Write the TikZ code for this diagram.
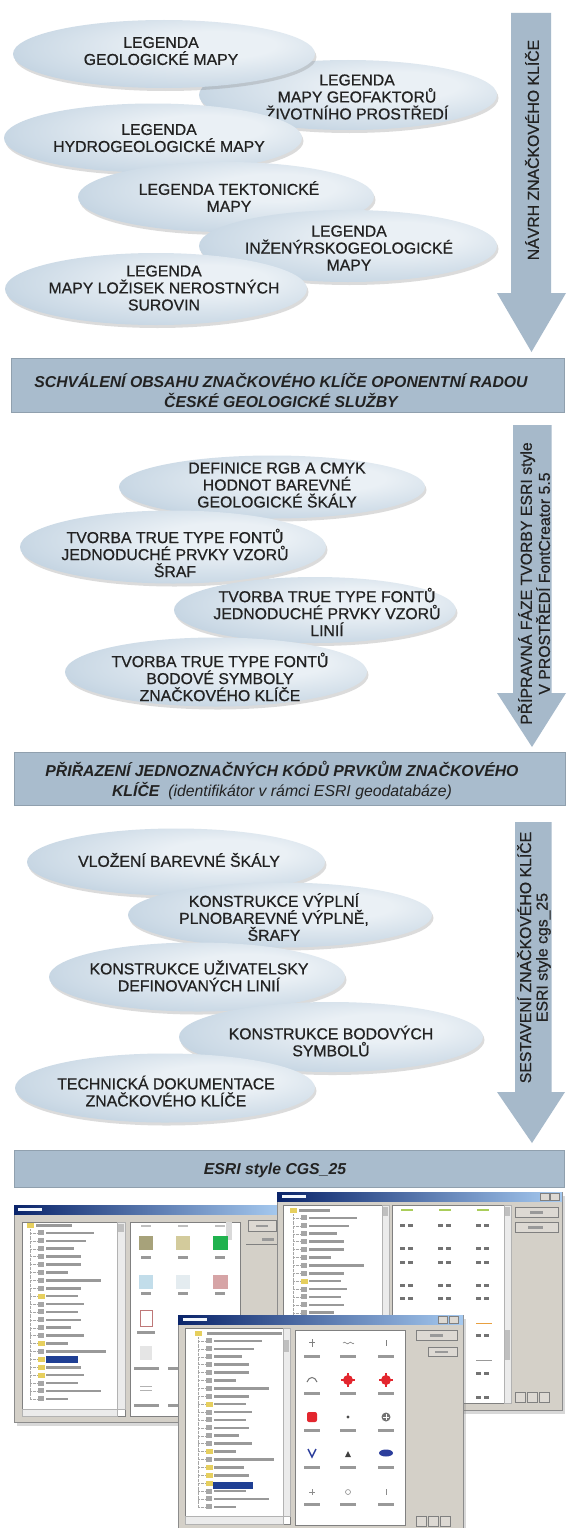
\documentclass[tikz,border=0pt]{standalone}
\usepackage{fontspec}
\setmainfont{Liberation Sans}
\newfontfamily\ellfont{Liberation Sans}[FakeBold=0.7]
\usetikzlibrary{shapes.geometric,shadows}
\definecolor{ellA}{HTML}{EAF0F5}
\definecolor{ellB}{HTML}{CCDAE6}
\definecolor{ellC}{HTML}{ABC1D4}
\definecolor{ellD}{HTML}{8EA7BE}
\definecolor{bandcol}{HTML}{A9BCCD}
\definecolor{arrowcol}{HTML}{A6B9CA}
\definecolor{txtcol}{HTML}{222222}
\definecolor{wingray}{HTML}{D4D0C8}
\definecolor{titleA}{HTML}{0A246A}
\definecolor{titleB}{HTML}{A6CAF0}
\definecolor{foldercol}{HTML}{E6CF5E}
\definecolor{selblue}{HTML}{1F3F94}
\definecolor{symred}{HTML}{E3262E}
\definecolor{symblue}{HTML}{2C3E9C}
\definecolor{swOlive}{HTML}{A7A27A}
\definecolor{swTan}{HTML}{D3CB9C}
\definecolor{swGreen}{HTML}{20B24E}
\definecolor{swBlue}{HTML}{C2DDEA}
\definecolor{swPale}{HTML}{E4ECF0}
\definecolor{swPink}{HTML}{D6A4A6}
\definecolor{swRedline}{HTML}{BE7878}
\definecolor{lnGreen}{HTML}{AACD5A}
\definecolor{lnOrange}{HTML}{E8A040}
\pgfdeclareradialshading{ellshade}{\pgfpoint{10bp}{8bp}}{color(0bp)=(ellA); color(10bp)=(ellA); color(28bp)=(ellB); color(44bp)=(ellC); color(64bp)=(ellD)}
\tikzset{
  ell/.style={ellipse, shade, shading=ellshade, draw=none, inner sep=0pt,
    drop shadow={shadow xshift=1.5pt, shadow yshift=-3pt, opacity=0.28}},
  elltext/.style={align=center, font=\ellfont\fontsize{15.8}{17}\selectfont, text=txtcol, inner sep=0pt},
  arrtext/.style={rotate=90, align=center, font=\ellfont\fontsize{15.8}{16.5}\selectfont, text=txtcol, inner sep=0pt},
  band/.style={rectangle, fill=bandcol, draw=bandcol!85!black, line width=0.5pt, inner sep=0pt},
  bandtext/.style={align=center, font=\bfseries\itshape\fontsize{15.8}{20}\selectfont, text=txtcol, inner sep=0pt},
  bigarrow/.style={fill=arrowcol},
  win/.style={fill=wingray, draw=black!45, line width=0.5pt,
    drop shadow={shadow xshift=3pt, shadow yshift=-4pt, opacity=0.3}},
  titlebar/.style={left color=titleA, right color=titleB},
  panel/.style={fill=white, draw=black!50, line width=0.4pt},
  scrollbar/.style={fill=black!8, draw=black!30, line width=0.3pt},
  button/.style={fill=wingray!80!white, draw=black!50, line width=0.4pt},
  rowtext/.style={fill=black!40},
  faint/.style={fill=black!25},
  checkicon/.style={fill=black!35},
  foldericon/.style={fill=foldercol},
  treeline/.style={draw=black!35, densely dotted, line width=0.3pt},
  tree/.pic={
    \draw[treeline] (3,4) -- (3,{7.9*22});
    \foreach \k/\l in {1/48,2/40,3/28,4/35,5/35,6/22,7/55,8/35,9/32,10/38,11/32,12/35,13/25,14/38,15/22,16/60,17/30,18/35,19/38,20/32,21/55,22/22}{
      \draw[treeline] (3,{7.9*\k}) -- (10,{7.9*\k});
      \fill[checkicon] (11,{7.9*\k-2.5}) rectangle (17,{7.9*\k+2.5});
      \fill[rowtext] (19,{7.9*\k-1.3}) rectangle ({19+\l},{7.9*\k+1.3});
    }
    \foreach \k in {9,15,17,18,19}{
      \fill[foldericon] (10.5,{7.9*\k-2.5}) rectangle (18,{7.9*\k+2.5});
    }
    \fill[foldericon] (0,-2.5) rectangle (7,2.5);
  }
}
\begin{document}
\begin{tikzpicture}[x=1pt,y=-1pt]
\useasboundingbox[fill=white] (0,0) rectangle (567,1528);

% ---------------- section 1 ----------------
\node[ell, minimum width=298pt, minimum height=70pt] (e2) at (348,95) {};
\node[elltext] (e2t) at (357,97) {LEGENDA\\MAPY GEOFAKTORŮ\\ŽIVOTNÍHO PROSTŘEDÍ};
\node[ell, minimum width=302pt, minimum height=68pt] (e1) at (164,54) {};
\node[elltext] (e1t) at (161,51) {LEGENDA\\GEOLOGICKÉ MAPY};
\node[ell, minimum width=298pt, minimum height=69pt] (e3) at (153,138) {};
\node[elltext] (e3t) at (159,138) {LEGENDA\\HYDROGEOLOGICKÉ MAPY};
\node[ell, minimum width=296pt, minimum height=70pt] (e4) at (226,197) {};
\node[elltext] (e4t) at (229,196.5) {LEGENDA TEKTONICKÉ\\MAPY};
\node[ell, minimum width=298pt, minimum height=72pt] (e5) at (348,246) {};
\node[elltext] (e5t) at (349,248) {LEGENDA\\INŽENÝRSKOGEOLOGICKÉ\\MAPY};
\node[ell, minimum width=302pt, minimum height=72pt] (e6) at (156,289) {};
\node[elltext] (e6t) at (164,288) {LEGENDA\\MAPY LOŽISEK NEROSTNÝCH\\SUROVIN};

\fill[bigarrow] (511,13) -- (551,13) -- (551,293) -- (566,293) -- (531.5,352) -- (497,293) -- (511,293) -- cycle;
\node[arrtext] (a1t) at (532,150) {NÁVRH ZNAČKOVÉHO KLÍČE};

\node[band, minimum width=553pt, minimum height=54pt] (b1) at (287.5,385) {};
\node[bandtext] (b1t) at (281,390) {SCHVÁLENÍ OBSAHU ZNAČKOVÉHO KLÍČE OPONENTNÍ RADOU\\ČESKÉ GEOLOGICKÉ SLUŽBY};

% ---------------- section 2 ----------------
\node[ell, minimum width=306pt, minimum height=63pt] (f1) at (272,487) {};
\node[elltext] (f1t) at (277,485) {DEFINICE RGB A CMYK\\HODNOT BAREVNÉ\\GEOLOGICKÉ ŠKÁLY};
\node[ell, minimum width=306pt, minimum height=73pt] (f2) at (173,547) {};
\node[elltext] (f2t) at (175,553) {TVORBA TRUE TYPE FONTŮ\\JEDNODUCHÉ PRVKY VZORŮ\\ŠRAF};
\node[ell, minimum width=282pt, minimum height=66pt] (f3) at (315,610) {};
\node[elltext] (f3t) at (327,612) {TVORBA TRUE TYPE FONTŮ\\JEDNODUCHÉ PRVKY VZORŮ\\LINIÍ};
\node[ell, minimum width=302pt, minimum height=69pt] (f4) at (216,672) {};
\node[elltext] (f4t) at (220,677) {TVORBA TRUE TYPE FONTŮ\\BODOVÉ SYMBOLY\\ZNAČKOVÉHO KLÍČE};

\fill[bigarrow] (513,425) -- (551.5,425) -- (551.5,693) -- (566,693) -- (532,747) -- (497,693) -- (513,693) -- cycle;
\node[arrtext] (a2t) at (534,583.5) {PŘÍPRAVNÁ FÁZE TVORBY ESRI style\\V PROSTŘEDÍ FontCreator 5.5};

\node[band, minimum width=551pt, minimum height=53pt] (b2) at (290,778.5) {};
\node[bandtext] (b2t) at (282,780) {PŘIŘAZENÍ JEDNOZNAČNÝCH KÓDŮ PRVKŮM ZNAČKOVÉHO\\KLÍČE\ \ {\mdseries (identifikátor v rámci ESRI geodatabáze)}};

% ---------------- section 3 ----------------
\node[ell, minimum width=298pt, minimum height=67pt] (g1) at (176,862) {};
\node[elltext] (g1t) at (179,860) {VLOŽENÍ BAREVNÉ ŠKÁLY};
\node[ell, minimum width=304pt, minimum height=65pt] (g2) at (280,915) {};
\node[elltext] (g2t) at (274,917) {KONSTRUKCE VÝPLNÍ\\PLNOBAREVNÉ VÝPLNĚ,\\ŠRAFY};
\node[ell, minimum width=296pt, minimum height=69pt] (g3) at (197,977) {};
\node[elltext] (g3t) at (199,976) {KONSTRUKCE UŽIVATELSKY\\DEFINOVANÝCH LINIÍ};
\node[ell, minimum width=304pt, minimum height=70pt] (g4) at (331,1037) {};
\node[elltext] (g4t) at (331,1041) {KONSTRUKCE BODOVÝCH\\SYMBOLŮ};
\node[ell, minimum width=300pt, minimum height=69pt] (g5) at (165,1088) {};
\node[elltext] (g5t) at (166,1091) {TECHNICKÁ DOKUMENTACE\\ZNAČKOVÉHO KLÍČE};

\fill[bigarrow] (515,822) -- (551.5,822) -- (551.5,1092) -- (565,1092) -- (532,1143) -- (497,1092) -- (515,1092) -- cycle;
\node[arrtext] (a3t) at (534,957.5) {SESTAVENÍ ZNAČKOVÉHO KLÍČE\\ESRI style cgs\_25};

\node[band, minimum width=549.5pt, minimum height=37pt] (b3) at (289.25,1168.5) {};
\node[bandtext] (b3t) at (275,1170) {ESRI style CGS\_25};

% ---------------- window A ----------------
\path[win] (14,1205) rectangle (280,1422);
\shade[titlebar] (14,1205) rectangle (280,1214);
\fill[white!85!titleB] (18,1208) rectangle (42,1211);
\path[panel] (22,1222) rectangle (125,1416);
\path[scrollbar] (117,1222) rectangle (125,1409);
\fill[black!25] (118,1224) rectangle (124,1232);
\path[scrollbar] (22,1409) rectangle (117,1416);
\pic at (27,1225) {tree};
\fill[rowtext] (36,1223.5) rectangle (72,1226.5);
\fill[selblue] (46,1356) rectangle (78,1362.5);
\path[panel] (130,1222) rectangle (240.5,1416);
\foreach \x in {146,183,220}{\fill[faint] (\x-5,1225) rectangle (\x+5,1227);}
\fill[black!15] (226,1222) rectangle (232,1240);
\fill[swOlive] (139,1236) rectangle (153,1250);
\fill[swTan] (176,1236) rectangle (190,1250);
\fill[swGreen] (213,1236) rectangle (228,1250);
\fill[swBlue] (139,1275) rectangle (153,1289);
\fill[swPale] (176,1275) rectangle (190,1289);
\fill[swPink] (213,1275) rectangle (228,1289);
\foreach \x in {146,183,220}{
  \fill[rowtext] (\x-5,1256) rectangle (\x+5,1259);
  \fill[rowtext] (\x-5,1292) rectangle (\x+5,1295);
}
\filldraw[fill=white, draw=swRedline, line width=0.6pt] (140,1310) rectangle (152,1326);
\fill[rowtext] (137,1331) rectangle (155,1334);
\fill[black!10] (140,1346) rectangle (152,1360);
\fill[rowtext] (134,1367) rectangle (159,1370);
\fill[rowtext] (168,1367) rectangle (178,1370);
\draw[black!30, line width=0.8pt] (140,1386) -- (152,1386);
\draw[black!30, line width=0.8pt] (140,1390) -- (152,1390);
\fill[rowtext] (134,1404) rectangle (159,1407);
\fill[rowtext] (168,1404) rectangle (178,1407);
\path[button] (248,1220) rectangle (276,1231);
\fill[rowtext] (256,1224.5) rectangle (268,1227);
\fill[rowtext] (262,1238) rectangle (274,1240.5);
\draw[black!50, line width=0.4pt] (246,1244) -- (277,1244);

% ---------------- window B ----------------
\path[win] (277,1192) rectangle (562,1410);
\shade[titlebar] (277,1192) rectangle (562,1201);
\fill[white!85!titleB] (282,1195) rectangle (306,1198);
\path[button] (540,1193) rectangle (549,1200);
\path[button] (550,1193) rectangle (559,1200);
\path[panel] (283,1205) rectangle (389,1405);
\path[scrollbar] (382,1205) rectangle (389,1405);
\fill[black!25] (383,1207) rectangle (388,1216);
\pic at (290,1210) {tree};
\fill[rowtext] (299,1208.5) rectangle (330,1211.5);
\path[panel] (392,1205) rectangle (511,1403);
\path[scrollbar] (504,1205) rectangle (511,1403);
\fill[black!25] (505,1207) rectangle (510,1216);
\fill[black!25] (505,1330) rectangle (510,1360);
\foreach \x in {407,445,483}{
  \fill[lnGreen] (\x-6,1209) rectangle (\x+6,1211);
  \foreach \y in {1225,1248,1262,1285,1298,1335,1373,1397}{
    \fill[black!55] (\x-7,\y-1.5) rectangle (\x-2,\y+1.5);
    \fill[black!55] (\x+1,\y-1.5) rectangle (\x+6,\y+1.5);
  }
}
\draw[lnOrange, line width=1pt] (476,1323) -- (492,1323);
\draw[black!40, line width=0.8pt] (476,1360) -- (492,1360);
\path[button] (515,1207) rectangle (558,1217);
\fill[rowtext] (530,1211) rectangle (543,1213.5);
\path[button] (515,1222) rectangle (558,1232);
\fill[rowtext] (528,1226) rectangle (543,1228.5);
\foreach \x in {515,527,539}{\path[button] (\x,1392) rectangle (\x+10,1402);}

% ---------------- window C ----------------
\path[win] (178,1315) rectangle (463,1535);
\shade[titlebar] (178,1315) rectangle (463,1324);
\fill[white!85!titleB] (183,1318) rectangle (207,1321);
\path[button] (438,1316) rectangle (447,1323);
\path[button] (449,1316) rectangle (458,1323);
\path[panel] (185,1328) rectangle (290,1524);
\path[scrollbar] (283,1328) rectangle (290,1516);
\fill[black!25] (284,1340) rectangle (289,1352);
\path[scrollbar] (185,1516) rectangle (283,1524);
\pic at (195,1333) {tree};
\fill[rowtext] (207,1331.5) rectangle (282,1334.5);
\fill[selblue] (213,1482) rectangle (253,1488.5);
\path[panel] (295,1330) rectangle (405,1525);
\foreach \x in {312,348,386}{
  \foreach \y in {1356,1393,1430,1467,1504}{
    \fill[rowtext] (\x-8,\y-1.5) rectangle (\x+8,\y+1.5);
  }
}
% row 1 symbols
\draw[black!50, line width=0.6pt] (312,1339) -- (312,1347) (309,1342) -- (315,1342);
\draw[black!50, line width=0.6pt] (343,1343) .. controls (345,1340) and (347,1346) .. (349,1343) .. controls (351,1340) and (353,1346) .. (354,1343);
\draw[black!50, line width=0.6pt] (386,1340) -- (386,1346);
% row 2 symbols
\draw[black!55, line width=1pt] (307,1382) .. controls (309,1376) and (315,1376) .. (317,1382);
\fill[symred] (348,1380) circle (5);
\fill[symred] (386,1380) circle (5);
\foreach \x in {348,386}{\fill[symred] (\x-1,1373) rectangle (\x+1,1387); \fill[symred] (\x-7,1379) rectangle (\x+7,1381);}
% row 3 symbols
\fill[symred, rounded corners=2pt] (307,1412) rectangle (317,1422);
\fill[black!70] (348,1417) circle (1.6);
\fill[black!55] (386,1417) circle (4.5);
\draw[white, line width=0.6pt] (383,1417) -- (389,1417) (386,1414) -- (386,1420);
% row 4 symbols
\draw[symblue, line width=1.4pt] (308,1449) -- (312,1457) -- (316,1449);
\fill[black!75] (345,1457) -- (351,1457) -- (348,1451) -- cycle;
\fill[symblue] (386,1453) ellipse (7 and 3.5);
% row 5 symbols
\draw[black!45, line width=0.6pt] (309,1492) -- (315,1492) (312,1489) -- (312,1495);
\draw[black!45, line width=0.6pt] (348,1492) circle (2.5);
\draw[black!45, line width=0.6pt] (386,1489) -- (386,1495);
% right side of C
\path[button] (416,1330) rectangle (457,1340);
\fill[rowtext] (430,1334) rectangle (443,1336.5);
\path[button] (428,1347) rectangle (457,1356);
\fill[rowtext] (435,1350.5) rectangle (448,1353);
\foreach \x in {416,428,440}{\path[button] (\x,1516) rectangle (\x+10,1526);}
\end{tikzpicture}
\end{document}
